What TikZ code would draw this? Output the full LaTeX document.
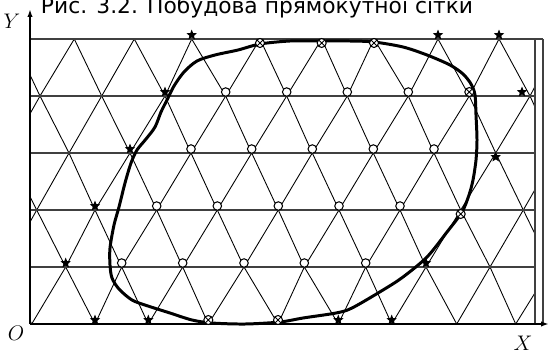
\documentclass[tikz,border=0pt]{standalone}
\usepackage{fontspec}
\newfontfamily\capfont{DejaVu Sans}
\usetikzlibrary{arrows.meta,shapes.geometric}
\definecolor{rowgray}{HTML}{404040}
\tikzset{
  triline/.style={line width=0.5pt},
  rowline/.style={rowgray, line width=0.8pt},
  axisline/.style={line width=0.9pt, -{Latex[length=4.5pt,width=3pt]}},
  contour/.style={line width=1.7pt, line join=round},
  innode/.style={circle, draw, fill=white, line width=0.6pt, minimum size=0.17cm, inner sep=0pt},
  bdnode/.style={circle, draw, fill=white, line width=0.6pt, minimum size=0.18cm, inner sep=0pt,
    path picture={\draw[line width=0.5pt] (path picture bounding box.north west) -- (path picture bounding box.south east)
      (path picture bounding box.south west) -- (path picture bounding box.north east);}},
  exnode/.style={star, star points=5, star point ratio=2.3, fill, minimum size=0.22cm, inner sep=0pt},
  letter/.style={font=\fontsize{11.5}{13}\selectfont},
}

\begin{document}
\begin{tikzpicture}[x=0.02cm, y=-0.02cm]
\useasboundingbox (0,0) rectangle (550,352);
\node[font=\capfont\fontsize{12.4}{14}\selectfont, anchor=base] (title) at (257,13) {Рис. 3.2. Побудова прямокутної сітки};
% vertices of the triangulation, row by row from the bottom
\foreach \x [count=\k from 0] in {-29,31.7,95,148.3,208.3,278,338.3,391.7,456.7,515.7,576}
  \coordinate (v0-\k) at (\x,324);
\foreach \x [count=\k from 0] in {5,65.7,121.7,182.7,244,304.3,365.7,426,490,551}
  \coordinate (v1-\k) at (\x,267);
\foreach \x [count=\k from 0] in {-24,36.7,95,156.7,217.3,278.3,339,400,460.7,523.3,584}
  \coordinate (v2-\k) at (\x,210);
\foreach \x [count=\k from 0] in {8,69,130,191,251.7,312.3,373.3,434,495.7,556}
  \coordinate (v3-\k) at (\x,153);
\foreach \x [count=\k from 0] in {-21,40,101.7,165,225.7,286.7,347.3,408.3,469.3,530,591}
  \coordinate (v4-\k) at (\x,96);
\foreach \x [count=\k from 0] in {13,74.3,134.3,191.7,260,321.7,374,438,499,560}
  \coordinate (v5-\k) at (\x,39);
\begin{scope}
\clip (30,39) rectangle (535,324);
\foreach \j [evaluate=\j as \jj using int(\j+1)] in {0,...,9} {
  \foreach \r/\a in {1/0,1/2,3/2,3/4,5/4}
    \draw[triline] (v\a-\j) -- (v\r-\j) -- (v\a-\jj);
}
\end{scope}
% grid rows and frame
\foreach \y in {96,153,210,267}
  \draw[rowline] (30,\y) -- (535,\y);
\draw[rowline] (30,39) -- (543,39);
\draw[rowline] (535,39) -- (535,324) (543,39) -- (543,324);
\coordinate (O) at (30,324);
\coordinate (ytip) at (30,9);
\coordinate (xtip) at (549,324);
\draw[axisline] (O) -- (ytip);
\draw[axisline] (O) -- (xtip);
\node[letter] (ylab) at (12,21) {$Y$};
\node[letter] (olab) at (16,333) {$O$};
\node[letter] (xlab) at (523,343) {$X$};
% domain boundary
\draw[contour] plot[smooth cycle] coordinates {
  (155,127) (161,112) (167,100) (174,86) (184,72) (197,61) (215,55) (238,50)
  (260,44) (290,41) (322,41) (350,41) (374,42) (403,47) (427,55) (450,65)
  (463,74) (471,84) (475,95) (476,115) (477,140) (476,160) (473,180) (469,195)
  (462,212) (447,232) (427,257) (403,277) (383,290) (352,308) (336,313) (303,318)
  (280,322) (245,324) (212,323) (192,320) (170,313) (148,306) (132,300) (119,289)
  (112,278) (110,265) (110,248) (114,225) (119,207) (125,183) (131,163) (137,150)
  (146,139)};
% inner nodes
\foreach \v in {4-4,4-5,4-6,4-7,3-3,3-4,3-5,3-6,3-7,2-3,2-4,2-5,2-6,2-7,1-2,1-3,1-4,1-5,1-6}
  \node[innode, yshift=0.08cm] (in\v) at (v\v) {};
% boundary nodes
\foreach \v in {5-4,5-5,5-6,2-8}
  \node[bdnode, yshift=-0.08cm] (bd\v) at (v\v) {};
\foreach \v in {4-8,0-4,0-5}
  \node[bdnode, yshift=0.08cm] (bd\v) at (v\v) {};
% outer nodes
\foreach \v in {5-3,5-7,5-8,4-3,3-2,2-2,1-1,1-7,0-2,0-3,0-6,0-7}
  \node[exnode, yshift=0.08cm] (ex\v) at (v\v) {};
\node[exnode, xshift=-0.16cm, yshift=0.08cm] (ex4-9) at (v4-9) {};
\node[exnode, yshift=-0.08cm] (ex3-8) at (v3-8) {};
\end{tikzpicture}
\end{document}
